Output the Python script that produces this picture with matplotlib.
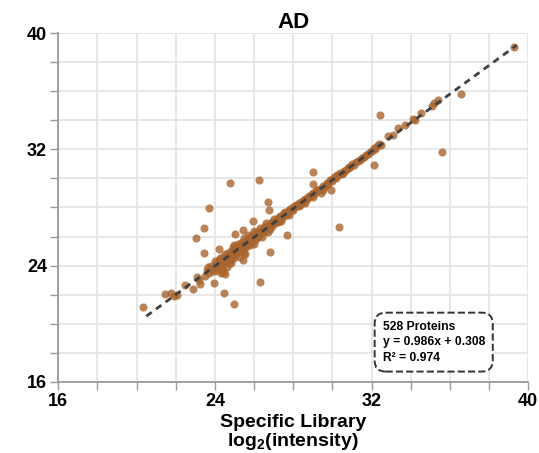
import matplotlib.pyplot as plt
import numpy as np
from matplotlib.ticker import MultipleLocator

# values (log2 intensity)
band_x = [23.6, 23.7, 23.8, 23.9, 24.0, 24.0, 24.1, 24.2, 24.2, 24.3, 24.3, 24.4, 24.4, 24.5, 24.5,
          24.6, 24.6, 24.7, 24.7, 24.8, 24.8, 24.9, 24.9, 25.0, 25.0, 25.0,
          25.1, 25.1, 25.2, 25.2, 25.3, 25.3, 25.4, 25.4, 25.5, 25.5, 25.5, 25.6, 25.6, 25.7, 25.7,
          25.8, 25.8, 25.9, 25.9, 26.0, 26.0, 26.0,
          26.1, 26.1, 26.2, 26.2, 26.3, 26.3, 26.4, 26.4, 26.5, 26.5, 26.6, 26.6, 26.7, 26.7,
          26.8, 26.8, 26.9, 26.9, 27.0, 27.0,
          27.1, 27.2, 27.2, 27.3, 27.4, 27.4, 27.5, 27.6, 27.6, 27.7, 27.8, 27.8, 27.9, 28.0, 28.0,
          28.1, 28.2, 28.3, 28.3, 28.4, 28.5, 28.6, 28.6, 28.7, 28.8, 28.9, 29.0, 29.0,
          29.1, 29.2, 29.3, 29.4, 29.5, 29.5, 29.6, 29.7, 29.8, 29.9, 30.0,
          30.1, 30.2, 30.3, 30.4, 30.5, 30.6, 30.7, 30.8, 30.9, 31.0,
          31.1, 31.2, 31.4, 31.5, 31.6, 31.8, 31.9, 32.0, 32.1, 32.3, 32.4,
          32.84, 33.35, 33.7, 34.1, 34.2, 34.5, 35.1, 35.2, 35.4, 36.58, 35.61, 39.25]
band_y = [23.7, 23.5, 24.0, 23.8, 24.3, 23.6, 24.0, 24.4, 23.9, 24.1, 23.5, 24.6, 23.6, 24.3, 24.8,
          24.4, 23.9, 24.7, 24.2, 25.0, 24.5, 24.8, 25.3, 24.9, 25.4, 24.5,
          25.2, 24.8, 25.5, 25.0, 25.3, 24.6, 25.6, 25.1, 25.4, 25.9, 24.9, 25.7, 25.3, 25.5, 26.1,
          25.8, 25.4, 26.0, 25.6, 25.9, 26.4, 25.5,
          26.1, 25.8, 26.3, 26.0, 26.2, 26.6, 26.4, 26.0, 26.6, 26.3, 26.5, 26.9, 26.7, 26.3,
          26.8, 26.5, 27.0, 26.7, 26.9, 27.2,
          27.1, 27.0, 27.3, 27.2, 27.4, 27.1, 27.5, 27.5, 27.7, 27.6, 27.8, 27.5, 27.8, 28.0, 27.8,
          28.1, 28.1, 28.3, 28.1, 28.4, 28.4, 28.6, 28.3, 28.6, 28.8, 28.8, 29.0, 28.7,
          29.0, 29.2, 29.2, 29.3, 29.5, 29.2, 29.5, 29.7, 29.6, 29.9, 29.8,
          30.1, 30.0, 30.2, 30.4, 30.3, 30.5, 30.6, 30.7, 30.8, 31.0,
          30.9, 31.1, 31.3, 31.4, 31.5, 31.7, 31.8, 31.9, 32.1, 32.2, 32.4,
          32.9, 33.5, 33.7, 34.1, 34.0, 34.5, 35.0, 35.2, 35.4, 35.84, 31.84, 39.06]

# second pass over the dense part of the band
dense_x = [23.65, 23.85, 24.05, 24.15, 24.25, 24.35, 24.45, 24.55, 24.65, 24.75, 24.85, 24.95,
           25.05, 25.15, 25.25, 25.35, 25.45, 25.55, 25.65, 25.75, 25.85, 25.95, 26.05, 26.15,
           26.25, 26.35, 26.45, 26.55, 26.65, 26.75, 26.85, 26.95, 27.05, 27.15, 27.25, 27.35,
           27.45, 27.55, 27.65, 27.75, 27.85, 27.95, 28.15, 28.35, 28.55, 28.75, 28.95, 29.15,
           29.35, 29.55, 29.75, 29.95, 30.25, 30.55, 30.85, 31.3, 31.7, 32.2, 32.5, 33.1]
dense_y = [23.9, 23.6, 24.1, 23.8, 24.5, 24.0, 24.2, 24.5, 24.9, 24.4, 24.6, 25.1,
           25.0, 25.3, 25.1, 25.5, 25.2, 25.6, 25.5, 25.9, 25.6, 26.2, 26.0, 26.3,
           26.1, 26.4, 26.5, 26.7, 26.6, 26.6, 26.9, 27.0, 26.9, 27.2, 27.1, 27.4,
           27.3, 27.6, 27.5, 27.7, 27.9, 27.8, 28.2, 28.2, 28.5, 28.7, 28.9, 29.1,
           29.3, 29.4, 29.6, 29.9, 30.2, 30.4, 30.8, 31.2, 31.6, 32.0, 32.3, 33.0]

scatter_x = [20.34, 21.44, 21.78, 22.09, 21.9, 22.46, 22.87, 23.11, 23.23, 23.93, 24.47, 24.96,
             26.32, 24.42, 24.5, 24.84, 25.44, 25.52, 24.2, 23.43, 23.06, 23.43, 23.69, 24.78,
             26.27, 26.73, 26.78, 25.95, 25.42, 25.03, 27.67, 26.82, 29.03, 29.91, 29.43, 29.03,
             30.32, 32.12, 32.41, 23.5, 23.2]
scatter_y = [21.13, 22.05, 22.09, 21.98, 21.9, 22.69, 22.37, 23.24, 22.74, 22.78, 22.14, 21.33,
             22.85, 23.59, 23.4, 24.16, 24.4, 24.8, 25.15, 24.9, 25.89, 26.62, 27.93, 29.70,
             29.89, 28.37, 27.82, 27.08, 26.46, 26.19, 26.14, 24.92, 30.46, 29.22, 28.99, 29.63,
             26.64, 30.94, 34.39, 23.3, 23.0]

slope = 0.986
intercept = 0.308
fit_range = [20.5, 39.4]

plt.rcParams['font.family'] = ['Liberation Sans', 'DejaVu Sans']
plt.rcParams['mathtext.fontset'] = 'custom'
plt.rcParams['mathtext.rm'] = 'Liberation Sans:bold'
plt.rcParams['mathtext.bf'] = 'Liberation Sans:bold'
plt.rcParams['mathtext.default'] = 'bf'

fig = plt.figure(figsize=(5.39, 4.53), dpi=100)
ax = fig.add_axes([0.108, 0.157, 0.872, 0.77])

xs = np.array(band_x + dense_x + scatter_x)
ys = np.array(band_y + dense_y + scatter_y)
ax.scatter(xs, ys, s=34, color='#a8652f', alpha=0.8, linewidths=0, zorder=3)

fx = np.array(fit_range)
ax.plot(fx, slope * fx + intercept, color='#404040', lw=2, dashes=(2.4, 1.9), zorder=4)

ax.set_xlim(16, 40)
ax.set_ylim(16, 40)
for axis in (ax.xaxis, ax.yaxis):
    axis.set_major_locator(MultipleLocator(8))
    axis.set_minor_locator(MultipleLocator(2))
ax.grid(True, which='both', color='#e3e3e3', lw=1.2, zorder=0)
ax.set_axisbelow(True)
ax.tick_params(which='both', direction='out', length=6, width=1, color='#999999')
ax.tick_params(which='major', labelsize=13, pad=2)
for lab in ax.get_xticklabels() + ax.get_yticklabels():
    lab.set_fontweight('bold')
for s in ['top', 'right']:
    ax.spines[s].set_visible(False)
for s in ['left', 'bottom']:
    ax.spines[s].set_color('#999999')
    ax.spines[s].set_linewidth(1.3)

ax.set_title('AD', fontsize=16, fontweight='bold', pad=3)
ax.set_xlabel('Specific Library\nlog$_2$(intensity)', fontsize=14, fontweight='bold',
              labelpad=3, linespacing=1.0)

ax.text(0.69, 0.114, '528 Proteins\ny = 0.986x + 0.308\nR² = 0.974', transform=ax.transAxes,
        fontsize=8.7, fontweight='bold', va='center', ha='left', linespacing=1.4,
        bbox=dict(boxstyle='round,pad=0.65,rounding_size=0.9', fc='white', ec='#333333',
                  lw=1.4, ls='--'), zorder=5)

fig.savefig('out.png', dpi=100)
